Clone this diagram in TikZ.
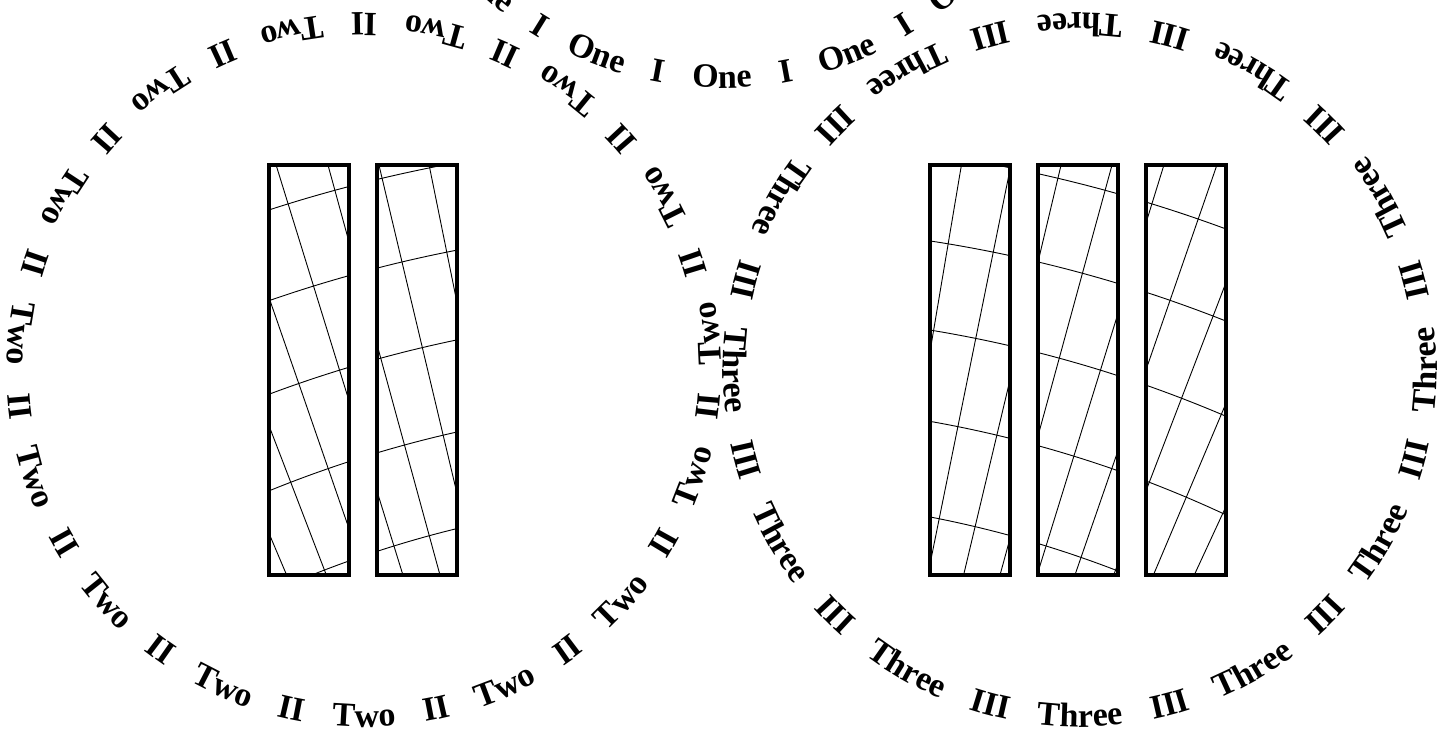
\documentclass[tikz,border=0pt]{standalone}
\usepackage{fontspec}
\setmainfont{Liberation Serif}
\usepackage{tikz}
\usetikzlibrary{decorations.text}

\newcommand{\ringfont}{\fontsize{34}{40}\selectfont\bfseries}

\begin{document}
\begin{tikzpicture}[
    x=1pt, y=1pt,
    panel/.style={draw, line width=4pt, minimum width=80pt, minimum height=410pt, inner sep=0pt, outer sep=0pt},
    gridline/.style={line width=0.9pt},
    ringword/.style={decorate, decoration={text along path, text align=center, text={|\ringfont|#1}}}
]

\useasboundingbox (0,0) rectangle (1453,734);

% Centres of the rings and of the curved grid
\coordinate (left) at (364,364);
\coordinate (right) at (1080,364);
\coordinate (top) at (722,1003);
\coordinate (pole) at (720,-866);

% Panels
\node[panel] (l1) at (308.5,364) {};
\node[panel] (l2) at (416.5,364) {};
\node[panel] (r1) at (970,364) {};
\node[panel] (r2) at (1077.5,364) {};
\node[panel] (r3) at (1185.5,364) {};

% Curved grid inside each panel
\foreach \p in {l1,l2,r1,r2,r3} {
  \begin{scope}
    \clip (\p.south west) rectangle (\p.north east);
    \foreach \r in {1103,1197,1287,1375,1461}
      \draw[gridline] (pole) circle[radius=\r];
    \foreach \m in {5,...,13} {
      \draw[gridline] (pole) -- ++(90+1.91*\m:1700);
      \draw[gridline] (pole) -- ++(90-1.91*\m:1700);
    }
  \end{scope}
}

% Ring Two
\foreach \k [evaluate=\k as \s using -102+24*\k] in {0,...,14} {
  \path[shift={(left)}, ringword=Two] (\s:357) arc[start angle=\s, end angle=\s+24, radius=357];
  \path[shift={(left)}, ringword=II] (\s+12:357) arc[start angle=\s+12, end angle=\s+36, radius=357];
}

% Ring Three
\foreach \k [evaluate=\k as \s using -105+30*\k] in {0,...,11} {
  \path[shift={(right)}, ringword=Three] (\s:357) arc[start angle=\s, end angle=\s+30, radius=357];
  \path[shift={(right)}, ringword=III] (\s+15:357) arc[start angle=\s+15, end angle=\s+45, radius=357];
}

% Ring One
\foreach \k [evaluate=\k as \s using -100+360/17*\k] in {0,...,16} {
  \path[shift={(top)}, ringword=One] (\s:357) arc[start angle=\s, end angle=\s+20, radius=357];
  \path[shift={(top)}, ringword=I] (\s+180/17:357) arc[start angle=\s+180/17, end angle=\s+180/17+20, radius=357];
}

\end{tikzpicture}
\end{document}
